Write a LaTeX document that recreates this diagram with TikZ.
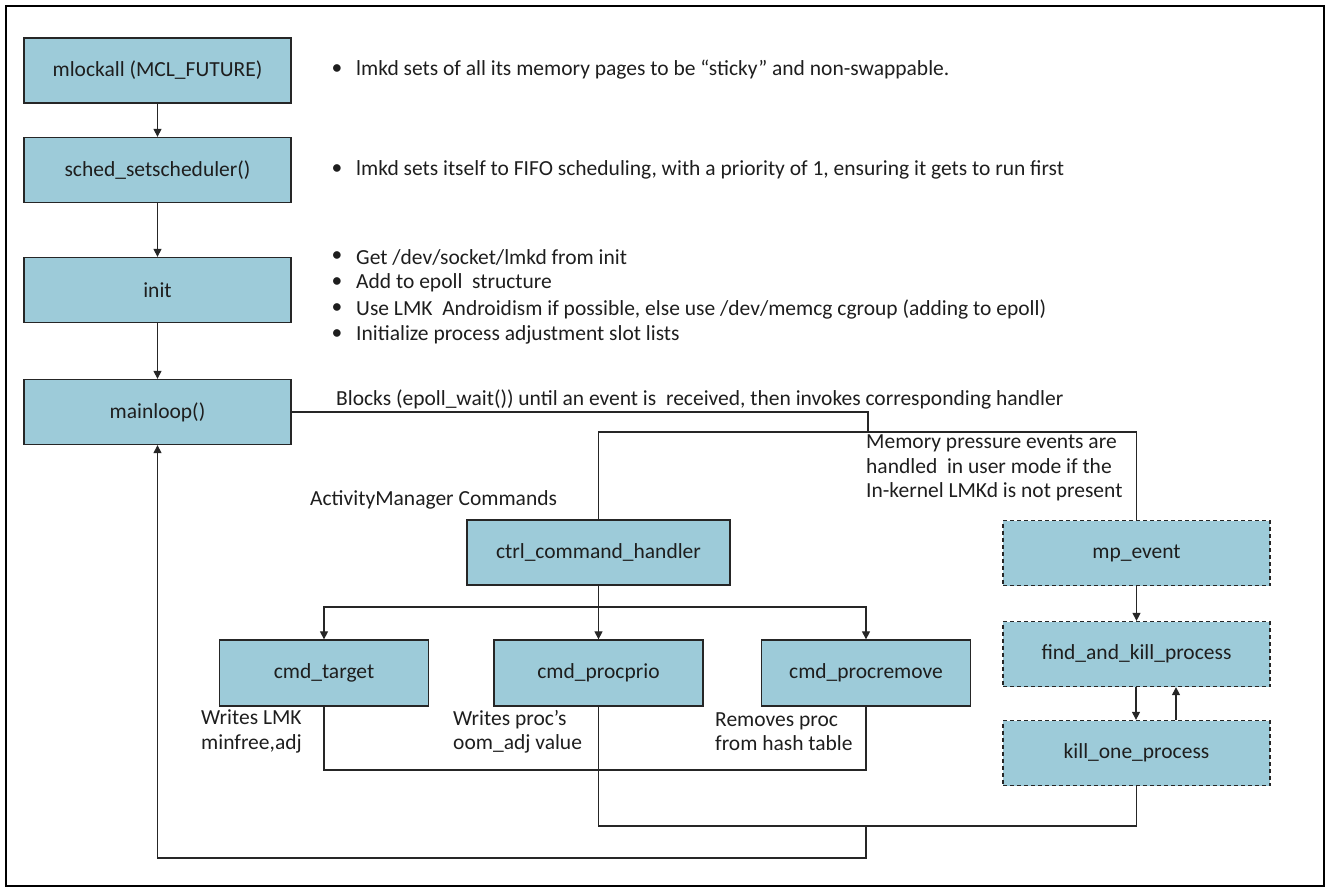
\documentclass[tikz,border=0pt]{standalone}
\usepackage{fontspec}
\setmainfont{Carlito}
\usetikzlibrary{arrows.meta}
\definecolor{boxblue}{RGB}{157,203,217}
\definecolor{ink}{RGB}{30,30,30}
\begin{document}
\begin{tikzpicture}[x=1pt,y=-1pt,
  every node/.style={inner sep=0pt, text=ink, font=\fontsize{21.5}{26}\selectfont},
  proc/.style={draw=black!85, fill=boxblue, line width=1.3pt,
    minimum width=267pt, minimum height=65pt},
  dproc/.style={proc, dash pattern=on 4pt off 3pt},
  cmd/.style={proc, minimum width=209pt, minimum height=66pt},
  wire/.style={draw=black!85, line width=1.2pt},
  flow/.style={wire, -{Triangle[length=8pt,width=8pt]}},
  note/.style={anchor=west, align=left},
  lines/.style={note, font=\fontsize{21.5}{24.5}\selectfont},
  dot/.style={anchor=center},
]
% page and frame
\useasboundingbox (0,0) rectangle (1330,892);
\draw[line width=2.5pt] (6,6) rectangle (1324,886);

% start-up sequence
\node[proc] (mlock) at (157.5,70.5) {mlockall (MCL\_FUTURE)};
\node[proc] (sched) at (157.5,170) {sched\_setscheduler()};
\node[proc] (init) at (157.5,290) {init};
\node[proc] (mainloop) at (157.5,412) {mainloop()};

\draw[flow] (mlock) -- (sched);
\draw[flow] (sched) -- (init);
\draw[flow] (init) -- (mainloop);

% descriptions of the start-up steps
\node[dot] (d1) at (337,70) {\textbullet};
\node[note] (t1) at (356,70) {lmkd sets of all its memory pages to be “sticky” and non-swappable.};
\node[dot] (d2) at (337,170) {\textbullet};
\node[note] (t2) at (356,170) {lmkd sets itself to FIFO scheduling, with a priority of 1, ensuring it gets to run first};
\node[dot] (d3) at (337,257) {\textbullet};
\node[note] (t3) at (356,257) {Get /dev/socket/lmkd from init};
\node[dot] (d4) at (337,283) {\textbullet};
\node[note] (t4) at (356,283) {Add to epoll\ \ structure};
\node[dot] (d5) at (337,309) {\textbullet};
\node[note] (t5) at (356,309) {Use LMK\ \ Androidism if possible, else use /dev/memcg cgroup (adding to epoll)};
\node[dot] (d6) at (337,335) {\textbullet};
\node[note] (t6) at (356,335) {Initialize process adjustment slot lists};

% event handlers
\node[proc, minimum width=263pt] (ctrl) at (598.5,552.5) {ctrl\_command\_handler};
\node[cmd] (target) at (324,673) {cmd\_target};
\node[cmd] (prio) at (598.5,673) {cmd\_procprio};
\node[cmd] (remove) at (866,673) {cmd\_procremove};
\node[dproc] (mp) at (1136.5,553) {mp\_event};
\node[dproc] (fk) at (1136.5,654) {find\_and\_kill\_process};
\node[dproc] (k1) at (1136.5,753) {kill\_one\_process};

% dispatch from the main loop
\coordinate (j1) at (868,412);
\coordinate (j2) at (868,432);
\draw[wire] (mainloop.east) -- (j1) -- (j2);
\draw[wire] (ctrl.north) |- (j2) -| (mp.north);

\node[note] (blk) at (336,399) {Blocks (epoll\_wait()) until an event is\ \ received, then invokes corresponding handler};
\node[lines] (mem) at (866,468) {Memory pressure events are\\handled\ \ in user mode if the\\In-kernel LMKd is not present};
\node[note] (am) at (310,500) {ActivityManager Commands};

% command fan-out
\coordinate (b) at (0,607);
\draw[wire] (ctrl.south) -- (ctrl.south |- b);
\draw[flow] (ctrl.south |- b) -| (target.north);
\draw[flow] (ctrl.south) -- (prio.north);
\draw[flow] (ctrl.south |- b) -| (remove.north);

\node[lines] (w1) at (201,731.5) {Writes LMK\\minfree,adj};
\node[lines] (w2) at (453,731.5) {Writes proc’s\\oom\_adj value};
\node[lines] (w3) at (715,731.5) {Removes proc\\from hash table};

% memory pressure chain
\draw[flow] (mp) -- (fk);
\draw[flow] ([xshift=-0.5pt]fk.south) -- ([xshift=-0.5pt]k1.north);
\draw[flow] ([xshift=39.5pt]k1.north) -- ([xshift=39.5pt]fk.south);

% return paths to the main loop
\coordinate (r1) at (0,770);
\coordinate (r2) at (0,826);
\coordinate (r3) at (0,858);
\draw[wire] (target.south) |- (remove.south |- r1) -- (remove.south);
\draw[wire] (prio.south) |- (k1.south |- r2) -- (k1.south);
\draw[flow] (remove.south |- r2) |- (mainloop.south |- r3) -- (mainloop.south);
\end{tikzpicture}
\end{document}
